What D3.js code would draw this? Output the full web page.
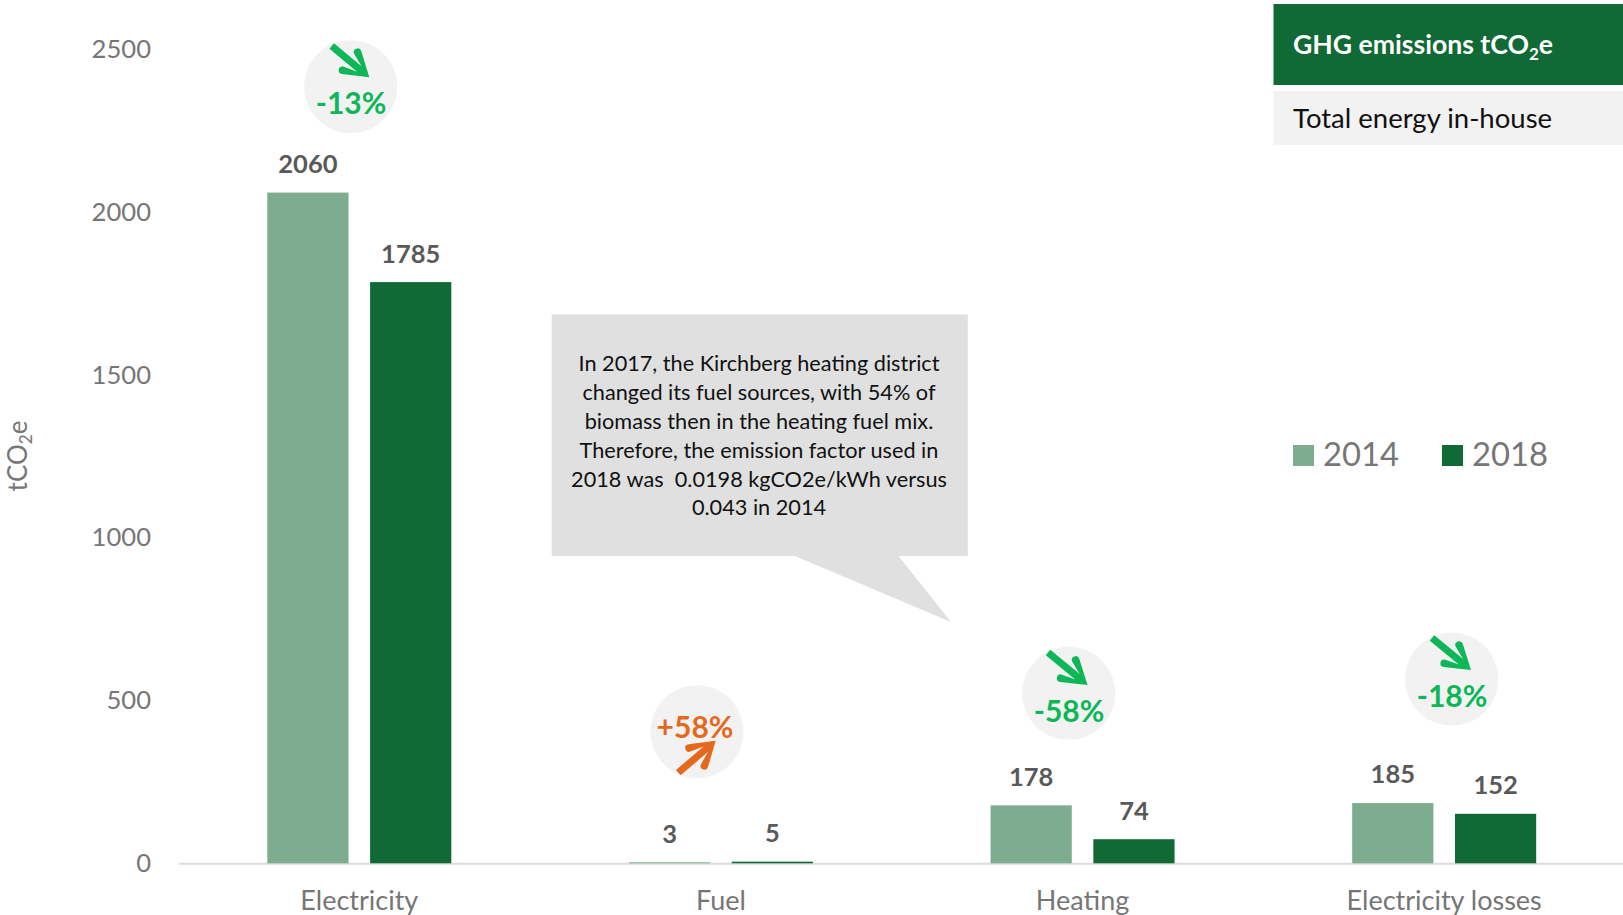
<!DOCTYPE html>
<html><head><meta charset="utf-8">
<script src="https://cdn.jsdelivr.net/npm/d3@7"></script>
<style>html,body{margin:0;padding:0;background:#fff;overflow:hidden}svg{display:block;font-family:Lato,sans-serif}</style>
</head><body><svg id="c" width="1623" height="915"></svg>
<script>
const categories=["Electricity","Fuel","Heating","Electricity losses"];
const years=["2014","2018"];
const values2014=[2060,3,178,185];
const values2018=[1785,5,74,152];
const yTicks=[0,500,1000,1500,2000,2500];
const badgeLabels=["-13%","+58%","-58%","-18%"];
const noteLines=["In 2017, the Kirchberg heating district","changed its fuel sources, with 54% of","biomass then in the heating fuel mix.","Therefore, the emission factor used in","2018 was  0.0198 kgCO2e/kWh versus","0.043 in 2014"];

const C={light:"#7dac8e",dark:"#116936",tick:"#767676",val:"#595959",axis:"#dcdcdc",green:"#0db657",orange:"#e4691c",pale:"#f2f2f2",note:"#e0e0e0"};
const svg=d3.select("#c");
const x0=d3.scaleBand().domain(categories).range([178.5,1625]);
const x1=d3.scaleBand().domain(years).range([-92,92]).paddingInner(0.21);
const y=d3.scaleLinear().domain([0,2500]).range([863.3,49.3]);
const rows=[values2014,values2018];

// axes
const ax=svg.append("g").attr("transform","translate(178,0)").call(d3.axisLeft(y).tickValues(yTicks).tickSize(0).tickPadding(27).tickFormat(d3.format("d")));
ax.select(".domain").remove();
ax.selectAll("text").attr("font-family","Lato").attr("font-size",25.6).attr("fill",C.tick).attr("dy","0.32em");
const bx=svg.append("g").attr("transform","translate(0,863.3)").call(d3.axisBottom(x0).tickSize(0).tickPadding(28));
bx.select(".domain").attr("stroke",C.axis).attr("stroke-width",2);
bx.selectAll("text").attr("font-family","Lato").attr("font-size",27).attr("fill",C.tick);

// bars and labels
years.forEach((yr,i)=>{
  const g=svg.append("g");
  const X=(d,k)=>x0(categories[k])+x0.bandwidth()/2+x1(yr);
  g.selectAll("rect").data(rows[i]).join("rect")
    .attr("x",X).attr("width",x1.bandwidth())
    .attr("y",d=>y(d)).attr("height",d=>y(0)-y(d))
    .attr("fill",i?C.dark:C.light);
  g.selectAll("text").data(rows[i]).join("text")
    .attr("x",(d,k)=>X(d,k)+x1.bandwidth()/2).attr("y",d=>y(d)-19.6)
    .attr("text-anchor","middle").attr("font-size",25.5).attr("font-weight",700).attr("fill",C.val)
    .text(d=>d);
});

// change badges
const badgeCircle=[[350.7,86.7],[697,731.7],[1068.7,693.3],[1451.7,679]];
const badgeArrow=[[331.7,46,369.3,77.3],[678.3,772.7,715.7,740.7],[1048,652.5,1087.5,685],[1432,638,1471,670]];
const badgeText=[[351,103.5],[695,727],[1069,710.7],[1452,695.7]];
badgeLabels.forEach((t,i)=>{
  const col=t[0]==="+"?C.orange:C.green;
  svg.append("circle").attr("cx",badgeCircle[i][0]).attr("cy",badgeCircle[i][1]).attr("r",46.5).attr("fill",C.pale);
  const [a,b,c,d]=badgeArrow[i];
  const L=Math.hypot(c-a,d-b), ang=Math.atan2(d-b,c-a)*180/Math.PI;
  svg.append("path").attr("transform",`translate(${c},${d}) rotate(${ang})`)
    .attr("d",`M0,0L-23,-15A3.6,3.6 0 0 0 -27,-8.5L-13,-3.5L${-L},-3.5L${-L},3.5L-13,3.5L-27,8.5A3.6,3.6 0 0 0 -23,15Z`)
    .attr("fill",col);
  svg.append("text").attr("x",badgeText[i][0]).attr("y",badgeText[i][1]).attr("dy","0.36em")
    .attr("text-anchor","middle").attr("font-size",30).attr("font-weight",700).attr("fill",col).text(t);
});

// callout
svg.append("path").attr("d","M551.7,314.6H967.8V556H898.5L951,622L795,556H551.7Z").attr("fill",C.note);
svg.append("g").selectAll("text").data(noteLines).join("text")
  .attr("x",759).attr("y",(d,i)=>364+i*28.8).attr("dy","0.34em").attr("text-anchor","middle")
  .attr("font-size",21.7).attr("fill","#111").attr("xml:space","preserve").style("white-space","pre").text(d=>d);

// header boxes
svg.append("rect").attr("x",1273.5).attr("y",4).attr("width",350).attr("height",81).attr("fill",C.dark);
svg.append("rect").attr("x",1273.5).attr("y",91).attr("width",350).attr("height",54).attr("fill",C.pale);
const h=svg.append("text").attr("x",1293).attr("y",54).attr("font-size",26.6).attr("font-weight",700).attr("fill","#fff");
h.append("tspan").text("GHG emissions tCO");
h.append("tspan").attr("font-size",17).attr("dy",6).text("2");
h.append("tspan").attr("dy",-6).text("e");
svg.append("text").attr("x",1293).attr("y",128).attr("font-size",27.5).attr("fill","#111").text("Total energy in-house");

// legend
const legendX=[1293,1442];
years.forEach((yr,i)=>{
  svg.append("rect").attr("x",legendX[i]).attr("y",445).attr("width",21).attr("height",21).attr("fill",i?C.dark:C.light);
  svg.append("text").attr("x",legendX[i]+30).attr("y",466).attr("font-size",32.8).attr("fill",C.tick).text(yr);
});

// y title
const t=svg.append("text").attr("transform","translate(27,456) rotate(-90)").attr("text-anchor","middle").attr("font-size",26).attr("fill",C.tick);
t.append("tspan").text("tCO");
t.append("tspan").attr("font-size",17).attr("dy",5).text("2");
t.append("tspan").attr("dy",-5).text("e");
</script></body></html>
